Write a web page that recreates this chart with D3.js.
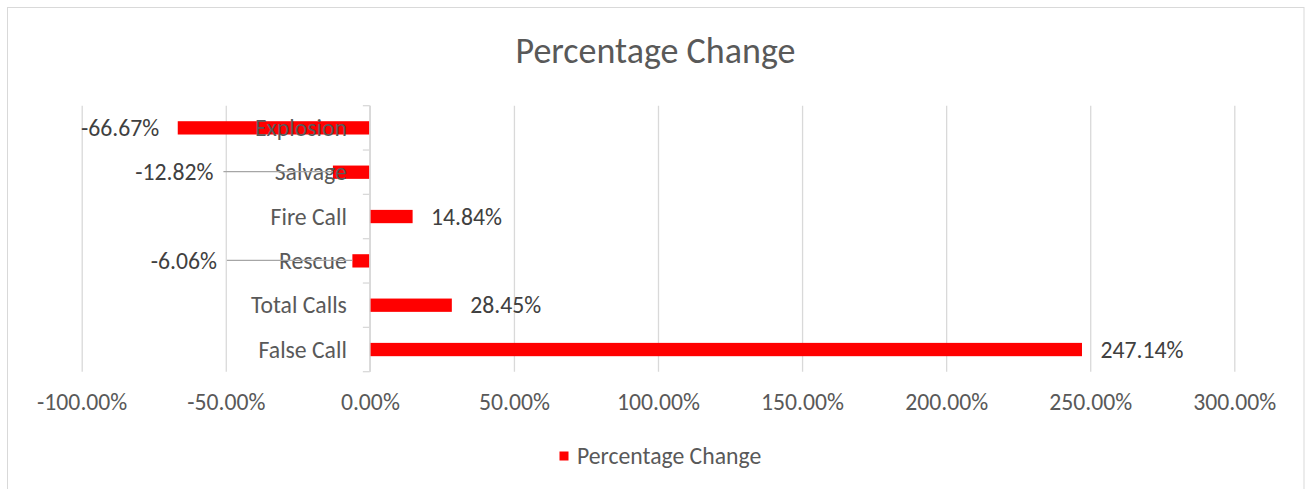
<!DOCTYPE html>
<html><head><meta charset="utf-8">
<script src="https://cdn.jsdelivr.net/npm/d3@7"></script>
<style>body{margin:0;background:#fff}svg{display:block}</style>
</head><body><svg id="c" width="1305" height="489"></svg>
<script>
// ---- data ----
const categories = ["Explosion", "Salvage", "Fire Call", "Rescue", "Total Calls", "False Call"];
const values = [-66.67, -12.82, 14.84, -6.06, 28.45, 247.14];
const xTicks = [-100, -50, 0, 50, 100, 150, 200, 250, 300];
const seriesName = "Percentage Change";
const chartTitle = "Percentage Change";

// ---- layout / style ----
const FONT = "Carlito, Calibri, Lato, sans-serif";
const LBL = 23.7, TTL = 36;
const plot = {left: 81.7, right: 1234.3, top: 105.7, bottom: 371.7};
const labelShift = {"Salvage": -101, "Rescue": -117}; // moved data labels (px)
const svg = d3.select("#c");

svg.append("rect").attr("x", 7.5).attr("y", 7.5).attr("width", 1296.5).attr("height", 490)
  .attr("fill", "#fff").attr("stroke", "#d9d9d9").attr("stroke-width", 1);

const x = d3.scaleLinear().domain([-100, 300]).range([plot.left, plot.right]);
const y = d3.scaleBand().domain(categories).range([plot.top, plot.bottom]).padding(0);
const barH = y.bandwidth() * 0.3;

// gridlines
const grid = svg.append("g").attr("transform", `translate(0,${plot.bottom})`)
  .call(d3.axisBottom(x).tickValues(xTicks).tickSize(-(plot.bottom - plot.top)).tickFormat(""));
grid.select(".domain").remove();
grid.selectAll("line").attr("stroke", "#d9d9d9").attr("stroke-width", 1.3);

// x tick labels
const xl = svg.append("g").attr("transform", `translate(0,${plot.bottom})`)
  .call(d3.axisBottom(x).tickValues(xTicks).tickSize(0).tickPadding(0).tickFormat(d => d.toFixed(2) + "%"));
xl.select(".domain").remove();
xl.selectAll("text").attr("y", 38.5).attr("dy", null)
  .attr("font-family", FONT).attr("font-size", LBL).attr("fill", "#595959");

// bars
svg.append("g").selectAll("rect").data(categories).join("rect")
  .attr("x", (c, i) => Math.min(x(0), x(values[i])))
  .attr("width", (c, i) => Math.abs(x(values[i]) - x(0)))
  .attr("y", c => y(c) + (y.bandwidth() - barH) / 2)
  .attr("height", barH)
  .attr("fill", "#ff0000");

// vertical category axis at 0
const x0 = x(0);
svg.append("line").attr("x1", x0).attr("x2", x0).attr("y1", plot.top).attr("y2", plot.bottom)
  .attr("stroke", "#d9d9d9").attr("stroke-width", 1.5);
const bounds = categories.map(c => y(c)).concat([plot.bottom]);
svg.append("g").selectAll("line").data(bounds).join("line")
  .attr("x1", x0 - 7).attr("x2", x0).attr("y1", d => d).attr("y2", d => d)
  .attr("stroke", "#d9d9d9").attr("stroke-width", 1.3);

// category labels
const yl = svg.append("g").attr("transform", `translate(${x0},0)`)
  .call(d3.axisLeft(y).tickSize(0).tickPadding(23));
yl.select(".domain").remove();
yl.selectAll("text").attr("font-family", FONT).attr("font-size", LBL).attr("fill", "#595959")
  .attr("dy", "0.35em");

// data labels + leader lines
const gap = 18.5;
const dl = svg.append("g");
categories.forEach((c, i) => {
  const v = values[i];
  const cy = y(c) + y.bandwidth() / 2;
  const end = x(v);
  const shift = labelShift[c] || 0;
  const lx = v < 0 ? end - gap + shift : end + gap;
  if (shift) {
    dl.append("line").attr("x1", lx + 10).attr("x2", end).attr("y1", cy - 0.5).attr("y2", cy - 0.5)
      .attr("stroke", "#a6a6a6").attr("stroke-width", 1.3);
  }
  dl.append("text").attr("x", lx).attr("y", cy).attr("dy", "0.35em")
    .attr("text-anchor", v < 0 ? "end" : "start")
    .attr("font-family", FONT).attr("font-size", LBL).attr("fill", "#404040")
    .text(v.toFixed(2) + "%");
});

// title
svg.append("text").attr("x", 655.5).attr("y", 63).attr("text-anchor", "middle")
  .attr("font-family", FONT).attr("font-size", TTL).attr("fill", "#595959").text(chartTitle);

// legend
const lg = svg.append("g");
lg.append("rect").attr("x", 559.5).attr("y", 451.5).attr("width", 9).attr("height", 9).attr("fill", "#ff0000");
lg.append("text").attr("x", 577).attr("y", 456).attr("dy", "0.35em")
  .attr("font-family", FONT).attr("font-size", LBL).attr("fill", "#595959").text(seriesName);
</script></body></html>
